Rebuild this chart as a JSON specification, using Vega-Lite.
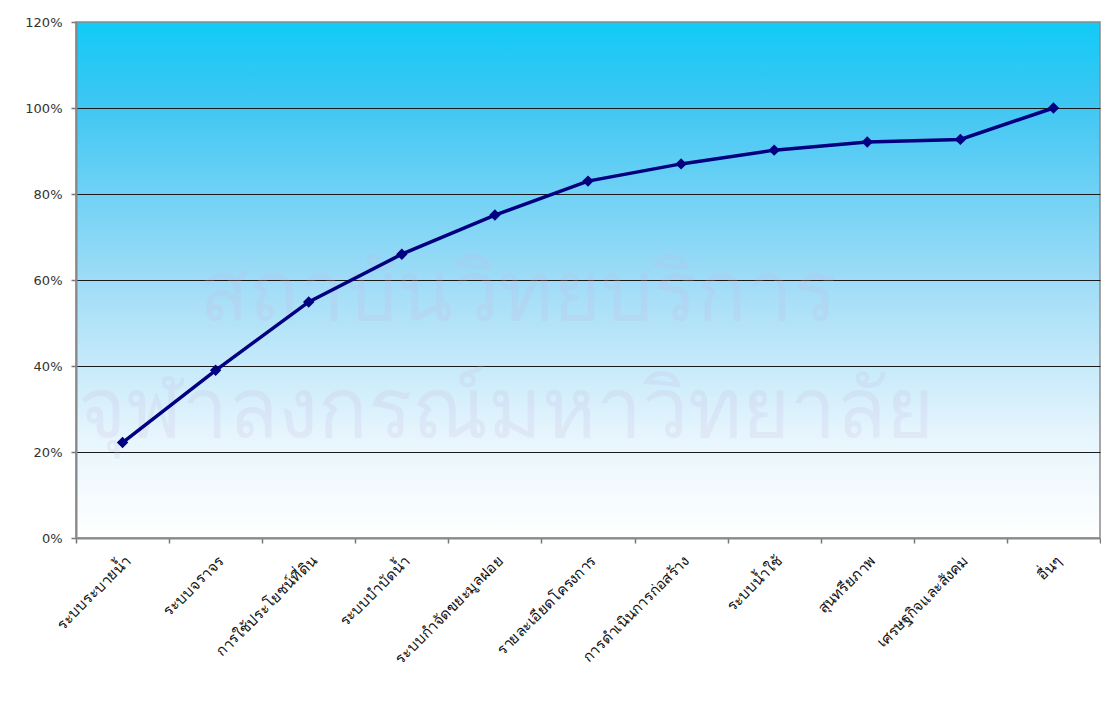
{
  "$schema": "https://vega.github.io/schema/vega-lite/v6.json",
  "width": 1024,
  "height": 516,
  "autosize": {"type": "none"},
  "padding": {"left": 76, "top": 22, "right": 1, "bottom": 180},
  "background": "white",
  "config": {
    "view": {
      "stroke": "#8a8a8a",
      "strokeWidth": 1.5,
      "fill": {
        "gradient": "linear",
        "x1": 0, "y1": 0, "x2": 0, "y2": 1,
        "stops": [
          {"offset": 0, "color": "#12CBF7"},
          {"offset": 0.15, "color": "#3CC6F3"},
          {"offset": 0.5, "color": "#9FDCF7"},
          {"offset": 0.8, "color": "#E6F5FD"},
          {"offset": 1, "color": "#FFFFFF"}
        ]
      }
    },
    "font": "DejaVu Sans"
  },
  "datasets": {
    "pareto": [
      {"item": "ระบบระบายน้ำ", "cum": 0.222},
      {"item": "ระบบจราจร", "cum": 0.39},
      {"item": "การใช้ประโยชน์ที่ดิน", "cum": 0.549},
      {"item": "ระบบบำบัดน้ำ", "cum": 0.66},
      {"item": "ระบบกำจัดขยะมูลฝอย", "cum": 0.751},
      {"item": "รายละเอียดโครงการ", "cum": 0.83},
      {"item": "การดำเนินการก่อสร้าง", "cum": 0.87},
      {"item": "ระบบน้ำใช้", "cum": 0.902},
      {"item": "สุนทรียภาพ", "cum": 0.921},
      {"item": "เศรษฐกิจและสังคม", "cum": 0.927},
      {"item": "อื่นๆ", "cum": 1.0}
    ],
    "wm": [
      {"t": "สถาบันวิทยบริการ", "px": 0.432, "py": 0.565},
      {"t": "จุฬาลงกรณ์มหาวิทยาลัย", "px": 0.42, "py": 0.293}
    ]
  },
  "layer": [
    {
      "data": {"name": "wm"},
      "mark": {"type": "text", "fontSize": 82, "color": "#c9b8e0", "opacity": 0.2, "baseline": "middle", "align": "center"},
      "encoding": {
        "x": {"field": "px", "type": "quantitative", "scale": {"domain": [0, 1]}, "axis": null},
        "y": {"field": "py", "type": "quantitative", "scale": {"domain": [0, 1.2]}, "axis": null},
        "text": {"field": "t"}
      }
    },
    {
      "data": {"name": "pareto"},
      "encoding": {
        "x": {
          "field": "item", "type": "nominal", "sort": null,
          "scale": {"paddingInner": 0, "paddingOuter": 0},
          "axis": {
            "title": null,
            "labelAngle": -45,
            "labelFontSize": 15,
            "labelColor": "#111",
            "tickBand": "extent",
            "tickSize": 5,
            "tickColor": "#777",
            "tickWidth": 1.5,
            "domainColor": "#888",
            "domainWidth": 2,
            "labelPadding": 10,
            "labelLimit": 300
          }
        },
        "y": {
          "field": "cum", "type": "quantitative",
          "scale": {"domain": [0, 1.2]},
          "axis": {
            "title": null,
            "orient": "left",
            "grid": true,
            "format": ".0%",
            "values": [0, 0.2, 0.4, 0.6, 0.8, 1.0, 1.2],
            "labelFontSize": 13,
            "labelColor": "#333",
            "tickSize": 5,
            "tickColor": "#777",
            "tickWidth": 1.5,
            "labelPadding": 9,
            "domainColor": "#888",
            "domainWidth": 2,
            "gridColor": {"condition": {"test": "datum.value > 0.01 && datum.value < 1.19", "value": "#1a1a1a"}, "value": "transparent"},
            "gridWidth": 1.2
          }
        }
      },
      "layer": [
        {"mark": {"type": "line", "color": "#000080", "strokeWidth": 3.5}},
        {"mark": {"type": "point", "shape": "diamond", "filled": true, "color": "#000080", "size": 130, "opacity": 1}}
      ]
    }
  ],
  "resolve": {"scale": {"x": "independent", "y": "independent"}}
}
